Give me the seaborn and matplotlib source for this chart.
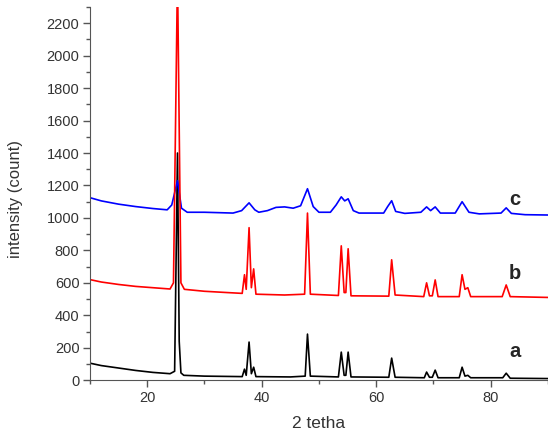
import numpy as np
import pandas as pd
import matplotlib
matplotlib.use("Agg")
import matplotlib.pyplot as plt
import seaborn as sns
from matplotlib.ticker import MultipleLocator

# sample a (black)
tth_a = [10, 12, 15, 18, 21, 24, 24.8, 25.3, 25.6, 25.9, 26.4, 30, 36.6, 37.0, 37.3, 37.8, 38.2, 38.6, 39.0,
         45, 47.6, 48.0, 48.5, 53.4, 53.9, 54.4, 54.7, 55.1, 55.6, 62.2, 62.7, 63.3, 68.4, 68.8, 69.3, 69.8,
         70.3, 70.8, 74.5, 75.0, 75.5, 76.0, 76.5, 82.1, 82.7, 83.4, 90]
int_a = [105, 90, 75, 60, 48, 40, 55, 1400, 240, 45, 30, 25, 22, 68, 30, 235, 40, 80, 22,
         20, 25, 284, 25, 20, 173, 30, 30, 173, 20, 18, 136, 18, 15, 50, 18, 18,
         62, 15, 15, 80, 25, 30, 15, 15, 43, 12, 10]

# sample b (red)
tth_b = [10, 12, 15, 18, 21, 24, 24.6, 25.3, 25.9, 26.5, 30, 34, 36.6, 37.0, 37.3, 37.8, 38.2, 38.6, 39.0,
         44, 47.5, 48.0, 48.5, 53.4, 53.9, 54.4, 54.7, 55.1, 55.6, 62.2, 62.7, 63.3, 68.3, 68.8, 69.3, 69.8,
         70.3, 70.8, 74.5, 75.0, 75.5, 76.0, 76.5, 82.0, 82.7, 83.4, 90]
int_b = [620, 605, 590, 578, 570, 562, 600, 2500, 600, 560, 548, 540, 535, 650, 560, 940, 570, 686, 530,
         525, 530, 1030, 530, 522, 828, 540, 540, 810, 520, 518, 742, 525, 515, 600, 520, 520,
         618, 515, 515, 650, 560, 570, 515, 515, 587, 515, 510]

# sample c (blue)
tth_c = [10, 12, 15, 18, 21, 23.5, 24.3, 25.3, 26.0, 27, 30, 35, 36.5, 37.8, 38.8, 39.5, 41, 42.5, 44, 45.5,
         46.8, 48.0, 49.0, 50, 52, 53.0, 53.9, 54.5, 55.1, 56.0, 57, 61.3, 62.0, 62.7, 63.4, 65, 67.8, 68.8,
         69.5, 70.3, 71.2, 73.8, 75.0, 76.2, 78, 81.8, 82.7, 83.6, 86, 90]
int_c = [1125, 1105, 1085, 1070, 1058, 1050, 1080, 1230, 1060, 1035, 1035, 1030, 1045, 1093, 1050, 1035, 1045,
         1065, 1068, 1060, 1075, 1180, 1070, 1035, 1035, 1080, 1130, 1105, 1118, 1045, 1030, 1030, 1070, 1106,
         1040, 1028, 1035, 1068, 1045, 1068, 1030, 1030, 1100, 1035, 1025, 1030, 1062, 1028, 1020, 1018]

labels = ["a", "b", "c"]
label_y = [175, 655, 1112]

sns.set_style("ticks")
plt.rcParams['font.family'] = ['Liberation Sans', 'DejaVu Sans']

fig = plt.figure(figsize=(5.48, 4.38), dpi=100)
ax = fig.add_axes([0.164, 0.132, 0.836, 0.852])

sns.lineplot(x=tth_a, y=int_a, color="black", lw=1.2, ax=ax)
sns.lineplot(x=tth_c, y=int_c, color="blue", lw=1.2, ax=ax)
sns.lineplot(x=tth_b, y=int_b, color="red", lw=1.2, ax=ax)

for lab, yy in zip(labels, label_y):
    ax.text(84.2, yy, lab, fontsize=14.5, fontweight="bold", ha="center", va="center")

ax.set_xlim(10, 90)
ax.set_ylim(0, 2300)
ax.xaxis.set_major_locator(MultipleLocator(20))
ax.xaxis.set_minor_locator(MultipleLocator(10))
ax.yaxis.set_major_locator(MultipleLocator(200))
ax.yaxis.set_minor_locator(MultipleLocator(100))
ax.tick_params(which="major", length=5, width=1, color="#555555", labelsize=10.5, labelcolor="#333333", pad=2.5)
ax.tick_params(which="minor", length=3, width=1, color="#555555")
for s in ["left", "bottom"]:
    ax.spines[s].set_color("#555555")
sns.despine(ax=ax)

ax.set_xlabel("2 tetha", fontsize=12.5, color="#333333")
ax.set_ylabel("intensity (count)", fontsize=12, color="#333333")
ax.xaxis.set_label_coords(0.5, -0.095)
ax.yaxis.set_label_coords(-0.146, 0.485)

plt.savefig("out.png", dpi=100)
